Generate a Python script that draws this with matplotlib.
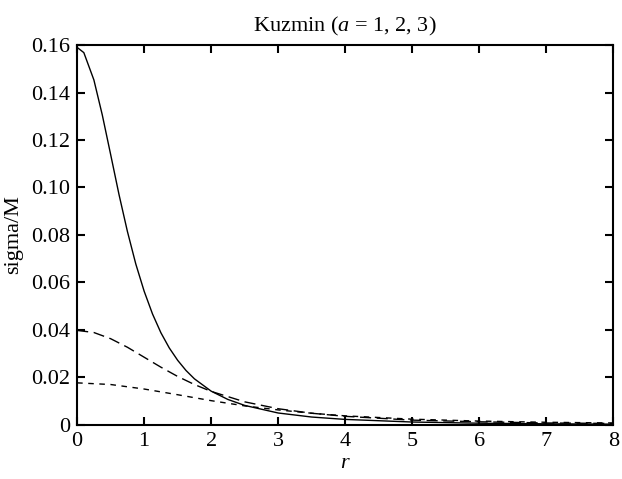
import matplotlib
matplotlib.use("Agg")
import matplotlib.pyplot as plt

# values
r1 = [0, 0.1, 0.25, 0.375, 0.5, 0.625, 0.75, 0.875, 1, 1.125, 1.25, 1.375, 1.5, 1.625, 1.75,
      2, 2.25, 2.5, 3, 3.5, 4, 5, 6, 7, 8]
s1 = [0.159, 0.1568, 0.1453, 0.1306, 0.1139, 0.0970, 0.0815, 0.0678, 0.0563, 0.0467, 0.0388,
      0.0324, 0.0272, 0.0229, 0.0194, 0.0142, 0.0107, 0.0082, 0.0050, 0.0033, 0.0023, 0.0012,
      0.0007, 0.00045, 0.0003]

r2 = [0, 0.25, 0.5, 0.75, 1, 1.25, 1.5, 1.75, 2, 2.5, 3, 3.5, 4, 5, 6, 7, 8]
s2 = [0.0398, 0.0389, 0.0363, 0.0327, 0.0285, 0.0243, 0.0204, 0.0170, 0.0141, 0.0097,
      0.0068, 0.0049, 0.0036, 0.0020, 0.0013, 0.0008, 0.0006]

r3 = [0, 0.5, 1, 1.5, 2, 2.5, 3, 3.5, 4, 5, 6, 7, 8]
s3 = [0.0177, 0.0170, 0.0151, 0.0127, 0.0102, 0.0080, 0.0063, 0.0049, 0.0038, 0.0024,
      0.0016, 0.0011, 0.0008]

xticks = [0, 1, 2, 3, 4, 5, 6, 7, 8]
yticks = [0, 0.02, 0.04, 0.06, 0.08, 0.10, 0.12, 0.14, 0.16]
ylabels = ["0", "0.02", "0.04", "0.06", "0.08", "0.10", "0.12", "0.14", "0.16"]

plt.rcParams["font.family"] = ["Liberation Serif", "DejaVu Serif"]
plt.rcParams["mathtext.fontset"] = "custom"
plt.rcParams["mathtext.it"] = "Liberation Serif:italic"
plt.rcParams["mathtext.rm"] = "Liberation Serif"

fs = 16

fig = plt.figure(figsize=(6.22, 4.79), dpi=100)
ax = fig.add_axes([0.124, 0.113, 0.862, 0.793])

ax.plot(r1, s1, color="black", lw=1.0, ls="-")
ax.plot(r2, s2, color="black", lw=1.0, ls=(0, (8, 4)))
ax.plot(r3, s3, color="black", lw=1.0, ls=(0, (4, 4)))

ax.set_xlim(0, 8)
ax.set_ylim(0, 0.16)
ax.set_xticks(xticks)
ax.set_yticks(yticks)
ax.set_yticklabels(ylabels)
ax.tick_params(direction="in", length=6, width=1.5, top=True, right=True,
               labelsize=fs, pad=5)
for sp in ax.spines.values():
    sp.set_linewidth(1.5)

ax.set_title("Kuzmin ($a$ = 1, 2, 3)", fontsize=fs, pad=10)
ax.set_xlabel("$r$", fontsize=fs, labelpad=2)
ax.set_ylabel("sigma/M", fontsize=fs, labelpad=6)

fig.savefig("out.png", dpi=100)
